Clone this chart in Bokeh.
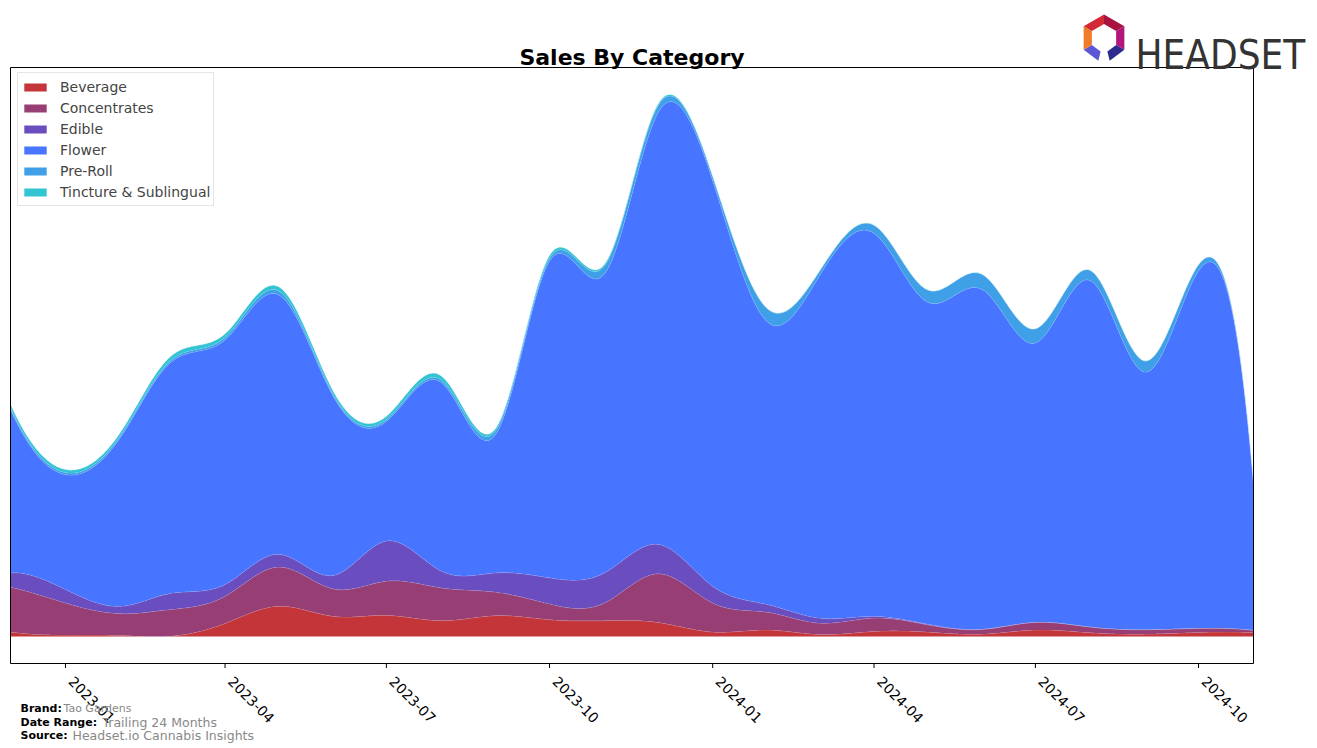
import math
import numpy as np
from bokeh.plotting import figure
from bokeh.models import Range1d, Label, PolyAnnotation
from bokeh.embed import file_html
from bokeh.resources import INLINE

# ---------------- data (monthly sales, arbitrary units) ----------------
months = ["2022-12", "2023-01", "2023-02", "2023-03", "2023-04", "2023-05",
          "2023-06", "2023-07", "2023-08", "2023-09", "2023-10", "2023-11",
          "2023-12", "2024-01", "2024-02", "2024-03", "2024-04", "2024-05",
          "2024-06", "2024-07", "2024-08", "2024-09", "2024-10", "2024-11"]

categories = ["Beverage", "Concentrates", "Edible", "Flower", "Pre-Roll",
              "Tincture & Sublingual"]

beverage = [4.4, 1.3, 1.0, 0.3, 13, 30, 20, 21, 15.7, 20.7, 16.7, 15.7,
            14, 4.4, 6.4, 2.0, 5.0, 4.4, 2.3, 6.4, 3.7, 2.3, 4.0, 3.7]
concentrates = [44.6, 32, 21.7, 26.4, 27, 39, 27.3, 34, 32.6, 23.3, 15.6, 17.6,
                48.3, 28.9, 17.6, 11.3, 13.3, 7.3, 4.7, 7.6, 5.6, 4.4, 4.0, 2.3]
edible = [14.3, 13.4, 7.3, 16, 11.7, 12.7, 13.4, 40, 16.7, 19.3, 26, 30,
          29.4, 16.7, 7.7, 5, 1.7, 0.6, 0.3, 0.2, 0.2, 0.2, 0.2, 0.2]
flower = [162.7, 114.3, 168, 229.3, 243.3, 258.3, 178.3, 119, 187.5, 138.7, 315.2, 297.5,
          428.8, 403.5, 281, 339.9, 381.0, 320.5, 337.8, 277.8, 344.5, 256.1, 355.5, 145.8]
preroll = [2, 2, 2, 2, 2.5, 4, 2, 2, 2.5, 4, 3, 8,
           7, 4, 13, 4.5, 8, 12, 15, 14, 10, 11, 6, 2]
tincture = [3, 3, 3, 4, 3.5, 4, 3, 3, 4, 2, 2.5, 1.5,
            1.5, 0.5, 0.3, 0.3, 0.2, 0.2, 0.2, 0.2, 0.2, 0.2, 0.2, 0.2]

tick_labels = ["2023-01", "2023-04", "2023-07", "2023-10",
               "2024-01", "2024-04", "2024-07", "2024-10"]

colors = ["#c33538", "#973f74", "#6a4ec0", "#4775ff", "#3fa0e8", "#33c4d4"]

# ---------------- helpers ----------------
origin = np.datetime64(months[0] + "-01")
days = np.array([(np.datetime64(m + "-01") - origin).astype(int) for m in months], dtype=float)
tick_days = [float((np.datetime64(t + "-01") - origin).astype(int)) for t in tick_labels]


def spline(x, y, xs):
    """Not-a-knot cubic spline through (x, y), evaluated at xs."""
    x = np.asarray(x, float)
    y = np.asarray(y, float)
    n = len(x)
    h = np.diff(x)
    A = np.zeros((n, n))
    b = np.zeros(n)
    A[0, 0], A[0, 1], A[0, 2] = h[1], -(h[0] + h[1]), h[0]
    A[-1, -3], A[-1, -2], A[-1, -1] = h[-1], -(h[-2] + h[-1]), h[-2]
    for i in range(1, n - 1):
        A[i, i - 1] = h[i - 1]
        A[i, i] = 2 * (h[i - 1] + h[i])
        A[i, i + 1] = h[i]
        b[i] = 6 * ((y[i + 1] - y[i]) / h[i] - (y[i] - y[i - 1]) / h[i - 1])
    M = np.linalg.solve(A, b)
    idx = np.clip(np.searchsorted(x, xs) - 1, 0, n - 2)
    x0, x1 = x[idx], x[idx + 1]
    hh = x1 - x0
    return (M[idx] * (x1 - xs) ** 3 / (6 * hh) + M[idx + 1] * (xs - x0) ** 3 / (6 * hh)
            + (y[idx] / hh - M[idx] * hh / 6) * (x1 - xs)
            + (y[idx + 1] / hh - M[idx + 1] * hh / 6) * (xs - x0))


xs = np.linspace(days[0], days[-1], 900)
series = [beverage, concentrates, edible, flower, preroll, tincture]
smooth = [np.clip(spline(days, s, xs), 0, None) for s in series]
cum = np.cumsum(np.vstack(smooth), axis=0)
ymax = cum[-1].max()
pad = 0.05 * ymax

# ---------------- canvas layout (pixels) ----------------
W, H = 1317, 748
PL, PR, PT, PB = 10, 1253, 67, 663          # plot box in canvas pixels
kx = (days[-1] - days[0]) / (PR - PL)       # days per pixel
ky = (ymax + 2 * pad) / (PB - PT)           # units per pixel
ybot, ytop = -pad, ymax + pad

p = figure(width=W, height=H, output_backend="svg", toolbar_location=None,
           x_range=Range1d(days[0] - PL * kx, days[-1] + (W - PR) * kx),
           y_range=Range1d(ybot - (H - PB) * ky, ytop + PT * ky),
           x_axis_location=None, y_axis_location=None, min_border=0)
p.xgrid.visible = False
p.ygrid.visible = False
p.outline_line_color = None
p.background_fill_color = "white"
p.border_fill_color = "white"

lower = np.zeros_like(xs)
for name, col, upper in zip(categories, colors, cum):
    p.varea(x=xs, y1=lower, y2=upper, fill_color=col, fill_alpha=1.0, legend_label=name)
    p.line(x=xs, y=upper, line_color="white", line_alpha=0.3, line_width=0.8)
    lower = upper

# plot box and date axis (drawn on the same scales)
p.quad(left=days[0], right=days[-1], bottom=ybot, top=ytop,
       fill_color=None, line_color="black", line_width=1)
p.segment(x0=tick_days, y0=[ybot] * len(tick_days), x1=tick_days,
          y1=[ybot - 4.5 * ky] * len(tick_days), line_color="black", line_width=1)
p.text(x=tick_days, y=[ybot] * len(tick_days), text=tick_labels, angle=-math.pi / 4,
       x_offset=9, y_offset=12, text_align="left", text_baseline="top",
       text_font_size="14px", text_color="black", text_font={"value": "DejaVu Sans"})

lg = p.legend[0]
lg.padding = 3
lg.spacing = 0
lg.label_height = 21
lg.glyph_height = 10
lg.glyph_width = 28
lg.label_standoff = 11
lg.label_text_font = "DejaVu Sans"
lg.label_text_font_size = "14px"
lg.border_line_color = "#cccccc"
lg.border_line_width = 1
lg.background_fill_alpha = 0.85
lg.location = (17, H - 74 - (2 * 3 + 6 * 21))


def lab(cx, cy, text, size, bold=False, color="black", align="left", font="DejaVu Sans"):
    p.add_layout(Label(x=cx, y=H - cy, x_units="screen", y_units="screen", text=text,
                       text_font=font, text_font_size=size,
                       text_font_style="bold" if bold else "normal", text_color=color,
                       text_align=align, text_baseline="alphabetic"))


lab(631.5, 57, "Sales By Category", "22px", bold=True, align="center")

lab(20, 708, "Brand:", "11px", bold=True)
lab(63, 708, "Tao Gardens", "11px", color="#888888")
lab(20, 722, "Date Range:", "11px", bold=True)
lab(102, 722, "Trailing 24 Months", "12.5px", color="#888888")
lab(20, 735, "Source:", "11px", bold=True)
lab(72, 735, "Headset.io Cannabis Insights", "12.5px", color="#888888")

# logo
lab(1135, 54, "HEADSET", "40px", color="#333333",
    font="'Liberation Sans Narrow', 'DejaVu Sans Condensed', 'Roboto'")

cx, cy, R, r = 1103.5, 37.5, 23.5, 14.0
seg_colors = ["#a8123f", "#b3157a", "#2d2a8e", "#5b57d6", "#f07c2a", "#d42a36"]
angs = [90, 30, -30, -90, -150, 150, 90]
for i in range(6):
    a0, a1 = math.radians(angs[i]), math.radians(angs[i + 1])
    if i == 2:
        a1 = math.radians(-76)
    if i == 3:
        a0 = math.radians(-104)
    pts = [(cx + R * math.cos(a0), cy - R * math.sin(a0)),
           (cx + R * math.cos(a1), cy - R * math.sin(a1)),
           (cx + r * math.cos(a1), cy - r * math.sin(a1)),
           (cx + r * math.cos(a0), cy - r * math.sin(a0))]
    p.add_layout(PolyAnnotation(xs=[q[0] for q in pts], ys=[H - q[1] for q in pts],
                                xs_units="screen", ys_units="screen",
                                fill_color=seg_colors[i], fill_alpha=1, line_color=None))

open("out.html", "w").write(file_html(p, INLINE))
